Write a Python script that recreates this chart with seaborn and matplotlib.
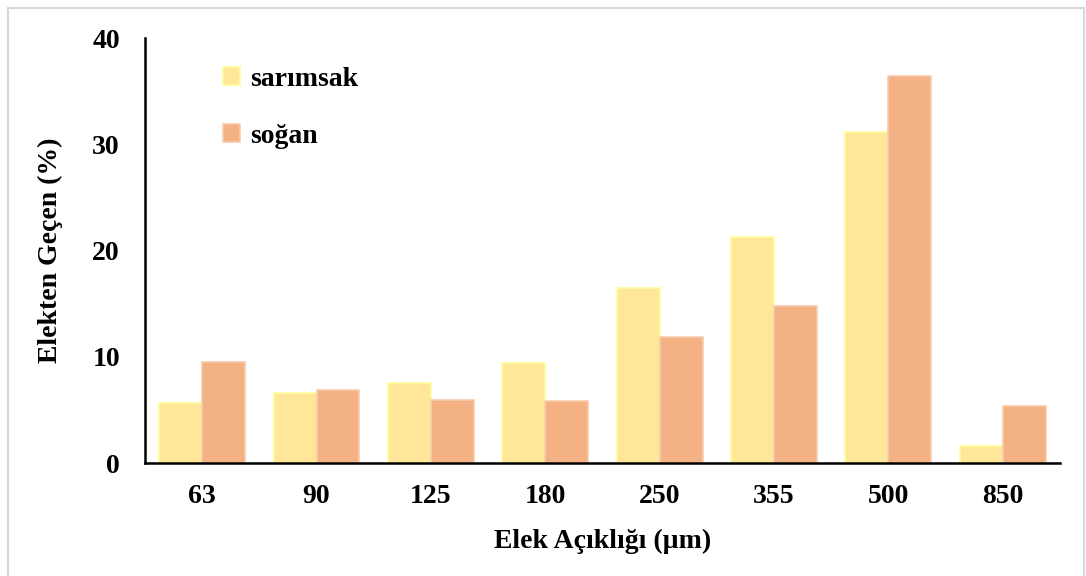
import matplotlib
matplotlib.use("Agg")
import matplotlib.pyplot as plt
import matplotlib.patches as mpatches
import seaborn as sns
import pandas as pd

# Sieve apertures (µm) and percentage passing for each sample
apertures = ["63", "90", "125", "180", "250", "355", "500", "850"]
sarimsak = [5.7, 6.6, 7.5, 9.4, 16.5, 21.3, 31.2, 1.6]
sogan = [9.5, 6.9, 5.9, 5.8, 11.9, 14.8, 36.4, 5.4]
series_names = ["sarımsak", "soğan"]

fill_colors = ["#FFE699", "#F4B183"]
edge_colors = ["#FFFF99", "#F8CBAD"]

df = pd.DataFrame({
    "aperture": apertures * 2,
    "value": sarimsak + sogan,
    "sample": [series_names[0]] * len(apertures) + [series_names[1]] * len(apertures),
})

sns.set_theme(style="white")
plt.rcParams["font.family"] = ["Liberation Serif", "DejaVu Serif"]
plt.rcParams["font.weight"] = "bold"
plt.rcParams["text.color"] = "black"
plt.rcParams["axes.labelcolor"] = "black"

fig = plt.figure(figsize=(10.86, 5.76), dpi=100)
ax = fig.add_axes([0.1335, 0.196, 0.8425, 0.738])

sns.barplot(data=df, x="aperture", y="value", hue="sample", order=apertures,
            hue_order=series_names, palette=fill_colors, width=0.75,
            saturation=1, legend=False, ax=ax)

# Thin outline on each bar in a lighter tone of its series
n = len(apertures)
for i, patch in enumerate(ax.patches[:2 * n]):
    patch.set_edgecolor(edge_colors[i // n])
    patch.set_linewidth(1.2)

ax.set_ylim(0, 40)
ax.set_xlim(-0.5, n - 0.5)
ax.set_yticks([0, 10, 20, 30, 40])
ax.tick_params(axis="both", length=0, labelsize=20, colors="black")
ax.tick_params(axis="y", pad=18)
ax.tick_params(axis="x", pad=15)
for lbl in ax.get_xticklabels() + ax.get_yticklabels():
    lbl.set_fontweight("bold")

for side in ["top", "right"]:
    ax.spines[side].set_visible(False)
for side in ["left", "bottom"]:
    ax.spines[side].set_color("black")
    ax.spines[side].set_linewidth(1.8)

ax.set_xlabel("Elek Açıklığı (µm)", fontsize=20, fontweight="bold",
              labelpad=14, color="black")
ax.set_ylabel("Elekten Geçen (%)", fontsize=20, fontweight="bold",
              labelpad=21, color="black")

handles = [mpatches.Patch(facecolor=fill_colors[k], edgecolor=edge_colors[k],
                          linewidth=1.2, label=series_names[k]) for k in range(2)]
leg = ax.legend(handles=handles, loc="upper left", bbox_to_anchor=(0.058, 0.99),
                frameon=False, prop={"size": 20, "weight": "bold"},
                handlelength=0.62, handleheight=0.62, handletextpad=0.35,
                labelspacing=1.15)
for t in leg.get_texts():
    t.set_color("black")

# Light frame around the whole chart area
frame = mpatches.Rectangle((8 / 1086, -0.05), 1077 / 1086 - 0.001, 1.05 - 8 / 576,
                           transform=fig.transFigure, fill=False,
                           edgecolor="#D9D9D9", linewidth=1.5, clip_on=False)
fig.patches.append(frame)

fig.savefig("out.png", dpi=100)
